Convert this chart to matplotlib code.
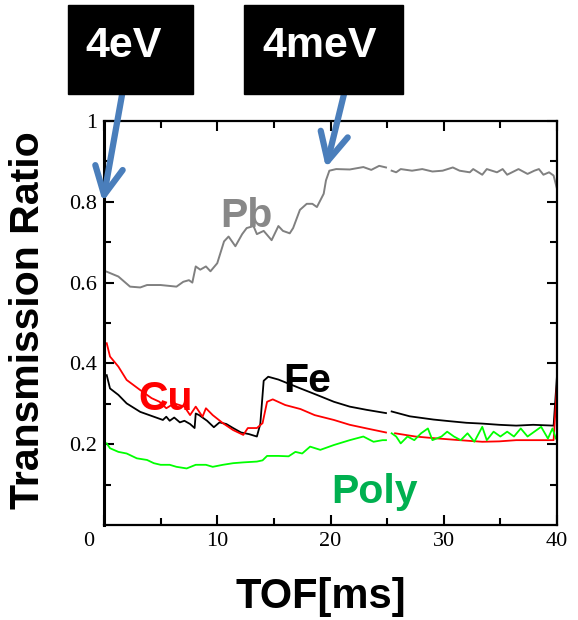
import matplotlib
matplotlib.use('Agg')
import matplotlib.pyplot as plt
from matplotlib.patches import Rectangle
import numpy as np

# TOF [ms] and transmission ratio (nan = gap in the data)
pb_x = [0.24, 1.27, 2.3, 3.2, 3.8, 5.0, 6.4, 7.0, 7.5, 7.8, 8.1, 8.5, 9.0, 9.4, 10.0, 10.6, 11.0,
        11.6, 12.2, 12.6, 13.2, 13.5, 14.1, 14.8, 15.4, 15.8, 16.4, 16.7, 17.3, 17.9, 18.4, 18.8,
        19.4, 19.6, 19.9, 20.5, 21.7, 22.9, 23.6, 24.3, 24.9, 25.1,
        25.4, 25.8, 26.2, 27.2, 28.1, 29.0, 29.9, 30.8, 31.4, 32.3, 32.6, 33.4, 33.8, 34.7,
        35.2, 35.6, 36.6, 37.4, 38.0, 38.4, 38.8, 39.3, 39.7, 40.0]
pb_y = [0.627, 0.615, 0.590, 0.588, 0.594, 0.594, 0.590, 0.602, 0.606, 0.600, 0.640, 0.632, 0.640,
        0.628, 0.648, 0.702, 0.714, 0.690, 0.720, 0.735, 0.740, 0.720, 0.728, 0.705, 0.740, 0.728,
        0.722, 0.735, 0.780, 0.795, 0.795, 0.787, 0.820, 0.853, 0.877, 0.881, 0.880, 0.886, 0.879,
        0.889, 0.885, np.nan,
        0.877, 0.873, 0.881, 0.877, 0.881, 0.875, 0.877, 0.885, 0.877, 0.873, 0.881, 0.867, 0.881,
        0.873, 0.881, 0.867, 0.881, 0.869, 0.877, 0.881, 0.867, 0.873, 0.865, 0.832]

fe_x = [0.24, 0.53, 1.27, 2.0, 3.2, 4.2, 5.2, 5.5, 5.8, 6.2, 6.7, 7.1, 7.6, 8.0, 8.1, 8.4, 9.1, 9.7,
        10.2, 10.8, 11.4, 12.1, 12.8, 13.5, 13.8, 14.1, 14.5, 15.4, 17.35, 18.8, 20.3, 21.7, 23.2,
        24.9, 25.1,
        25.4, 27.0, 29.1, 30.5, 32.0, 33.4, 34.9, 36.4, 37.9, 39.7, 40.0]
fe_y = [0.371, 0.338, 0.322, 0.301, 0.280, 0.270, 0.260, 0.268, 0.258, 0.266, 0.254, 0.258, 0.250,
        0.240, 0.276, 0.272, 0.258, 0.242, 0.254, 0.250, 0.240, 0.229, 0.225, 0.219, 0.250, 0.357,
        0.367, 0.360, 0.338, 0.322, 0.305, 0.293, 0.285, 0.277, np.nan,
        0.281, 0.269, 0.261, 0.257, 0.253, 0.251, 0.248, 0.246, 0.248, 0.246, 0.370]

cu_x = [0.24, 0.53, 1.27, 2.0, 3.2, 4.2, 4.9, 5.5, 6.2, 7.1, 7.6, 8.1, 8.7, 9.0, 9.6, 10.5, 11.4,
        12.3, 12.7, 13.5, 14.0, 14.4, 14.9, 16.0, 17.35, 18.6, 20.3, 21.7, 23.2, 24.9, 25.1,
        25.7, 27.5, 29.1, 31.4, 33.4, 34.9, 36.4, 37.9, 39.7, 39.9, 40.0]
cu_y = [0.450, 0.417, 0.392, 0.359, 0.334, 0.314, 0.305, 0.289, 0.301, 0.293, 0.272, 0.293, 0.268,
        0.289, 0.272, 0.252, 0.235, 0.223, 0.240, 0.240, 0.252, 0.305, 0.311, 0.297, 0.287, 0.272,
        0.260, 0.248, 0.239, 0.229, np.nan,
        0.227, 0.219, 0.215, 0.210, 0.206, 0.207, 0.210, 0.210, 0.210, 0.300, 0.350]

poly_x = [0.24, 0.53, 1.27, 2.0, 2.9, 3.8, 4.4, 5.0, 5.8, 6.4, 7.3, 8.1, 9.0, 9.6, 10.5, 11.4, 12.3,
          13.5, 14.0, 14.4, 15.4, 16.3, 16.9, 17.5, 18.2, 19.1, 20.3, 21.7, 22.9, 23.8, 24.6,
          24.9, 25.1,
          25.4, 25.8, 26.2, 26.8, 27.4, 28.0, 28.6, 29.0, 29.8, 30.3, 30.9, 31.5, 32.1, 32.7, 33.4,
          33.8, 34.4, 35.0, 35.6, 36.2, 36.8, 37.4, 38.0, 38.6, 39.2, 39.6, 39.9]
poly_y = [0.202, 0.190, 0.181, 0.177, 0.165, 0.161, 0.153, 0.149, 0.149, 0.144, 0.140, 0.149, 0.149,
          0.144, 0.149, 0.153, 0.155, 0.157, 0.160, 0.171, 0.171, 0.170, 0.181, 0.177, 0.194, 0.186,
          0.198, 0.210, 0.219, 0.206, 0.210, 0.210, np.nan,
          0.227, 0.219, 0.202, 0.219, 0.210, 0.227, 0.239, 0.210, 0.219, 0.231, 0.219, 0.210, 0.227,
          0.206, 0.243, 0.210, 0.231, 0.219, 0.231, 0.219, 0.239, 0.219, 0.231, 0.243, 0.214, 0.239,
          0.214]

x_ticks = [0, 10, 20, 30, 40]
y_ticks = [0.2, 0.4, 0.6, 0.8, 1.0]
y_ticklabels = ['0.2', '0.4', '0.6', '0.8', '1']

fig = plt.figure(figsize=(5.78, 6.2), dpi=100)
ax = fig.add_axes([104/578, 1-525/620, 453/578, 404/620])

ax.plot(pb_x, pb_y, color='#808080', lw=1.4)
ax.plot(fe_x, fe_y, color='black', lw=1.3)
ax.plot(cu_x, cu_y, color='#ff0000', lw=1.3)
ax.plot(poly_x, poly_y, color='#00ff00', lw=1.3)

ax.set_xlim(0, 40)
ax.set_ylim(0, 1)
ax.set_xticks(x_ticks)
ax.set_xticklabels(['', '10', '20', '30', '40'])
ax.set_xticks([5, 15, 25, 35], minor=True)
ax.set_yticks(y_ticks)
ax.set_yticklabels(y_ticklabels)
ax.set_yticks([0.1, 0.3, 0.5, 0.7, 0.9], minor=True)

serif = 'Liberation Serif'
ax.tick_params(which='both', direction='in', top=True, right=True, width=1.5)
ax.tick_params(which='major', length=7)
ax.tick_params(which='minor', length=5)
ax.tick_params(axis='x', pad=5)
ax.tick_params(axis='y', pad=5)
for lab in ax.get_xticklabels() + ax.get_yticklabels():
    lab.set_fontfamily(serif)
    lab.set_fontsize(16)
ax.annotate('0', xy=(0, 0), xytext=(-7, -5), textcoords='offset points',
            ha='right', va='top', fontsize=16, fontfamily=serif)
for sp in ax.spines.values():
    sp.set_linewidth(1.6)
ax.spines['left'].set_linewidth(2.2)

ax.set_xlabel('TOF[ms]', fontsize=30, fontweight='bold', fontfamily='Liberation Sans')
ax.xaxis.set_label_coords((321-104)/453, -0.128)
ax.set_ylabel('Transmission Ratio', fontsize=29.5, fontweight='bold', fontfamily='Liberation Sans')
ax.yaxis.set_label_coords(-0.126, 0.507)

lab_kw = dict(fontsize=29.5, fontweight='bold', fontfamily='Liberation Sans', va='baseline')
ax.text(10.3, 0.738, 'Pb', color='#888888', **lab_kw)
ax.text(3.0, 0.285, 'Cu', color='#ff0000', **lab_kw)
ax.text(15.8, 0.329, 'Fe', color='black', **lab_kw)
ax.text(20.1, 0.054, 'Poly', color='#00b050', **lab_kw)

# energy markers
boxes = [('4eV', 68, 193, 124), ('4meV', 244, 403, 320)]
for txt, x0, x1, xc in boxes:
    fig.patches.append(Rectangle((x0/578, 1-94/620), (x1-x0)/578, 89/620,
                                 transform=fig.transFigure, color='black', zorder=5))
    fig.text(xc/578, 1-46/620, txt, color='white', fontsize=31, fontweight='bold',
             fontfamily='Liberation Sans', ha='center', va='center', zorder=6)

arrow_kw = dict(arrowstyle='->,head_length=1.0,head_width=0.5', color='#4a7ebb', lw=4.5,
                mutation_scale=20, shrinkA=0, shrinkB=0)
ax.annotate('', xy=(-0.1, 0.80), xytext=(122, 620-95), textcoords='figure pixels',
            arrowprops=arrow_kw, annotation_clip=False)
ax.annotate('', xy=(19.6, 0.884), xytext=(345, 620-90), textcoords='figure pixels',
            arrowprops=arrow_kw, annotation_clip=False)

fig.savefig('out.png', dpi=100)
